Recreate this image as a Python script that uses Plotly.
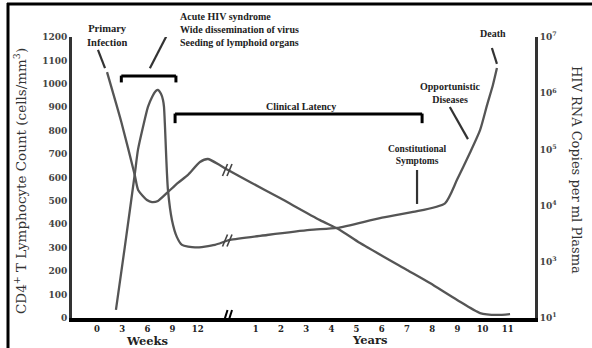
import numpy as np
import plotly.graph_objects as go

# ---------------- data ----------------
week_ticks = [0, 3, 6, 9, 12]
year_ticks = [1, 2, 3, 4, 5, 6, 7, 8, 9, 10, 11]
cd4_ticks = [0, 100, 200, 300, 400, 500, 600, 700, 800, 900, 1000, 1100, 1200]
rna_tick_vals = [1e7, 1e6, 1e5, 1e4, 1e3, 1e2]
rna_tick_labels = ["10<sup>7</sup>", "10<sup>6</sup>", "10<sup>5</sup>",
                   "10<sup>4</sup>", "10<sup>3</sup>", "10<sup>1</sup>"]

# CD4+ T lymphocyte count (cells/mm3)
cd4_weeks = [1.2, 2.9, 4.5, 4.9, 5.95, 6.55, 7.26, 8.33, 9.64, 10.83, 12.26, 13.2, 14.6, 15.6]
cd4_weeks_vals = [1050, 837, 611, 547, 504, 495, 500, 534, 577, 611, 666, 679, 653, 632]
cd4_years = [0.77, 1.96, 3.55, 4.34, 5.14, 7.0, 7.91, 8.99, 9.9, 10.57, 11.09]
cd4_years_vals = [581, 512, 418, 376, 320, 205, 149, 77, 21, 13, 17]

# HIV RNA copies per ml plasma
rna_weeks = [2.26, 3.33, 4.52, 4.88, 5.48, 6.07, 6.55, 7.02, 7.26, 7.62, 7.86, 7.98,
             8.10, 8.21, 8.33, 8.45, 8.93, 9.52, 10.12, 11.67, 14.05, 15.83]
rna_weeks_vals = [140, 1900, 38000, 98000, 250000, 570000, 850000, 1.1e6, 1.15e6, 9.8e5,
                  7.6e5, 5.7e5, 2.5e5, 9.8e4, 3.8e4, 1.9e4, 5500, 2750, 2000, 1800, 2000, 2450]
rna_years = [1.45, 3.15, 4.22, 5.93, 7.24, 8.51, 8.99, 9.5, 9.9, 10.18, 10.41, 10.57]
rna_years_vals = [3000, 3700, 4000, 6000, 7700, 11000, 29000, 87000, 2.2e5, 6.2e5, 1.4e6, 2.8e6]

acute_phase_weeks = [2.9, 9.4]
latency_start_week = 9.3
latency_end_year = 7.6

# ---------------- layout helpers ----------------
W, H = 592, 348
L, R, T, B = 72, 57, 37, 30
YEAR_OFFSET = 5.3
BREAK_U = 5.2
X_RANGE = [-0.99, 17.38]
Y_RANGE = [0, 1200]
LOG_RANGE = [2, 7]


def wk(w):
    return np.asarray(w, dtype=float) / 3.0


def yr(y):
    return np.asarray(y, dtype=float) + YEAR_OFFSET


def log_to_left(v):
    e = np.log10(v)
    return (e - LOG_RANGE[0]) / (LOG_RANGE[1] - LOG_RANGE[0]) * (Y_RANGE[1] - Y_RANGE[0])


def px_x(px):
    return (px - L) / (W - L - R)


def px_y(py):
    return (H - B - py) / (H - T - B)


cd4_x = np.concatenate([wk(cd4_weeks), yr(cd4_years)])
cd4_y = np.concatenate([cd4_weeks_vals, cd4_years_vals])
rna_x = np.concatenate([wk(rna_weeks), yr(rna_years)])
rna_y = np.concatenate([rna_weeks_vals, rna_years_vals])

CURVE = "#555555"
SERIF = "DejaVu Serif"
ANN = "Liberation Serif"

fig = go.Figure()
fig.add_trace(go.Scatter(x=cd4_x, y=cd4_y, mode="lines", yaxis="y",
                         line=dict(color=CURVE, width=2.3, shape="spline", smoothing=0.6),
                         showlegend=False, hoverinfo="skip"))
fig.add_trace(go.Scatter(x=rna_x, y=rna_y, mode="lines", yaxis="y2",
                         line=dict(color=CURVE, width=2.3, shape="spline", smoothing=0.6),
                         showlegend=False, hoverinfo="skip"))

shapes = []


def seg(x0, y0, x1, y1, color="black", width=3, xref="x", yref="y"):
    shapes.append(dict(type="line", x0=x0, y0=y0, x1=x1, y1=y1, xref=xref, yref=yref,
                       line=dict(color=color, width=width)))


# brackets
a0, a1 = float(wk(acute_phase_weeks[0])), float(wk(acute_phase_weeks[1]))
seg(a0, 1033, a1, 1033)
seg(a0, 1035, a0, 1006)
seg(a1, 1035, a1, 1006)
l0, l1 = float(wk(latency_start_week)), float(yr(latency_end_year))
seg(l0, 871, l1, 871)
seg(l0, 873, l0, 832)
seg(l1, 873, l1, 832)

# pointer lines
ptr = "#333333"
seg(0.04, 1145, 0.32, 1067, ptr, 2.2)
seg(2.82, 1217, 2.10, 1067, ptr, 2.2)
seg(14.0, 901, 14.72, 764, ptr, 2.2)
seg(12.7, 632, 12.7, 487, ptr, 2.2)
seg(15.67, 1153, 15.87, 1085, ptr, 2.2)


# break marks "//"
def break_mark(yval, half_h, color, width):
    for dx in (-2.5, 2.0):
        shapes.append(dict(type="line", xref="x", yref="y",
                           xsizemode="pixel", xanchor=BREAK_U,
                           ysizemode="pixel", yanchor=yval,
                           x0=dx - 3, x1=dx + 2, y0=-half_h, y1=half_h,
                           line=dict(color=color, width=width)))


break_mark(float(np.interp(BREAK_U, cd4_x, cd4_y)), 6, "#444444", 1.6)
break_mark(float(log_to_left(np.interp(BREAK_U, rna_x, rna_y))), 6, "#444444", 1.6)
break_mark(0, 8, "black", 2)

# frame lines of the image
shapes.append(dict(type="line", xref="paper", yref="paper", x0=px_x(7), x1=px_x(592),
                   y0=px_y(4), y1=px_y(4), line=dict(color="black", width=3)))
shapes.append(dict(type="line", xref="paper", yref="paper", x0=px_x(8), x1=px_x(8),
                   y0=px_y(3), y1=px_y(348), line=dict(color="black", width=3)))

annotations = []


def note(text, px, py, xanchor="center", size=10, align="center"):
    annotations.append(dict(text=f"<b>{text}</b>", x=px_x(px), y=px_y(py),
                            xref="paper", yref="paper",
                            xanchor=xanchor, yanchor="middle", showarrow=False, align=align,
                            font=dict(family=ANN, size=size, color="#222222")))


note("Primary<br>Infection", 107, 36, size=10.5)
note("Acute HIV syndrome<br>Wide dissemination of virus<br>Seeding of lymphoid organs",
     178, 30, xanchor="left", align="left")
note("Clinical Latency", 301, 106)
note("Opportunistic<br>Diseases", 450, 93)
note("Constitutional<br>Symptoms", 417, 155, size=9.5)
note("Death", 493, 33)

annotations.append(dict(text="<b>Weeks</b>", x=px_x(147), y=px_y(341), xref="paper", yref="paper",
                        xanchor="center", yanchor="middle",
                        showarrow=False, font=dict(family=SERIF, size=11.5, color="#222222")))
annotations.append(dict(text="<b>Years</b>", x=px_x(370), y=px_y(340), xref="paper", yref="paper",
                        xanchor="center", yanchor="middle",
                        showarrow=False, font=dict(family=SERIF, size=11.5, color="#222222")))
annotations.append(dict(text="CD4<sup>+</sup> T Lymphocyte Count (cells/mm<sup>3</sup>)",
                        x=px_x(20), y=px_y(181), xref="paper", yref="paper", textangle=-90,
                        xanchor="center", yanchor="middle",
                        showarrow=False, font=dict(family=SERIF, size=13.5, color="#333333")))
annotations.append(dict(text="HIV RNA Copies per ml Plasma",
                        x=px_x(577), y=px_y(170), xref="paper", yref="paper", textangle=90,
                        xanchor="center", yanchor="middle",
                        showarrow=False, font=dict(family=SERIF, size=13, color="#333333")))

xtickvals = list(wk(week_ticks)) + list(yr(year_ticks))
xticktext = [f"<b>{t}</b>" for t in week_ticks] + [f"<b>{t}</b>" for t in year_ticks]

fig.update_layout(
    width=W, height=H,
    margin=dict(l=L, r=R, t=T, b=B, pad=0),
    paper_bgcolor="white", plot_bgcolor="white",
    showlegend=False,
    xaxis=dict(range=X_RANGE, tickvals=xtickvals, ticktext=xticktext,
               showline=True, linecolor="black", linewidth=4, ticks="",
               showgrid=False, zeroline=False,
               tickfont=dict(family=SERIF, size=8.5, color="#222222")),
    yaxis=dict(range=Y_RANGE, tickvals=cd4_ticks, showline=True, linecolor="#333333",
               linewidth=3, ticks="", showgrid=False, zeroline=False,
               tickfont=dict(family=SERIF, size=9, color="#444444", weight="bold")),
    yaxis2=dict(type="log", range=LOG_RANGE, overlaying="y", side="right",
                tickvals=rna_tick_vals, ticktext=rna_tick_labels,
                showline=True, linecolor="#333333", linewidth=3, ticks="",
                showgrid=False, zeroline=False,
                tickfont=dict(family=SERIF, size=9, color="#444444", weight="bold")),
    shapes=shapes,
    annotations=annotations,
)

fig.write_html("out.html")
